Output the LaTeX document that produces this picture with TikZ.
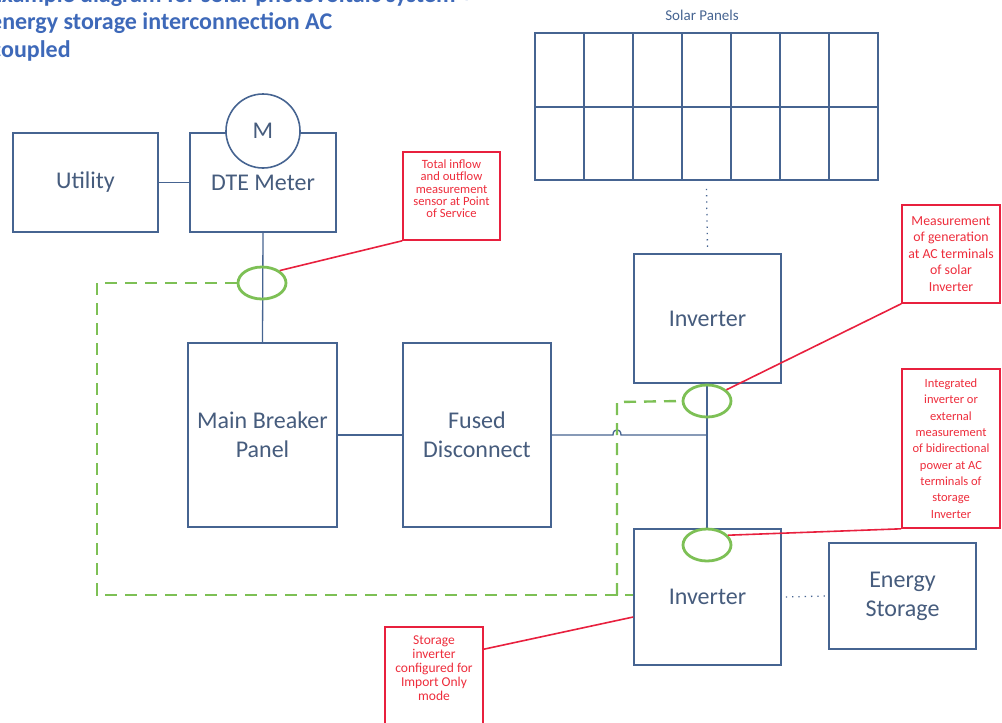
\documentclass[tikz,border=0pt]{standalone}
\usepackage{fontspec}
\setmainfont{Carlito}
\usetikzlibrary{shapes.geometric}
\definecolor{boxline}{RGB}{70,100,145}
\definecolor{boxtext}{RGB}{70,92,125}
\definecolor{titleblue}{RGB}{62,105,185}
\definecolor{calred}{RGB}{232,32,62}
\definecolor{redtext}{RGB}{238,45,60}
\definecolor{sensgreen}{RGB}{125,192,85}
\begin{document}
\begin{tikzpicture}[x=1pt,y=-1pt,
  blk/.style={draw=boxline, line width=1.6pt, fill=white, text=boxtext,
    font=\fontsize{24}{29}\selectfont, align=center, inner sep=0pt},
  wire/.style={draw=boxline, line width=1.3pt},
  sensor/.style={draw=sensgreen, line width=2.8pt, ellipse, minimum width=48pt,
    minimum height=32pt, inner sep=0pt},
  gdash/.style={draw=sensgreen, line width=2.4pt, dash pattern=on 12pt off 8pt},
  callout/.style={draw=calred, line width=1.6pt, fill=white, text=redtext,
    align=center, inner sep=0pt, minimum width=97pt},
  redline/.style={draw=calred, line width=1.6pt},
  dots/.style={draw=boxline, line width=1.3pt, dash pattern=on 1.3pt off 5pt},
  ttl/.style={anchor=base west, text=titleblue, inner sep=0pt,
    font=\bfseries\fontsize{24}{28}\selectfont}]
\useasboundingbox (0,0) rectangle (1002,723);
\clip (0,0) rectangle (1002,723);

% title (cut off by the picture edge, as in the original)
\node[ttl] (t1) at (-10,2) {Example diagram for solar photovoltaic system +};
\node[ttl] (t2) at (-10,29) {energy storage interconnection AC};
\node[ttl] (t3) at (-9,57) {coupled};

% solar panels
\node[text=boxline, font=\fontsize{15}{18}\selectfont, inner sep=0pt] (sptitle) at (702,15) {Solar Panels};
\node[draw=boxline, line width=1.6pt, minimum width=343pt, minimum height=147pt, inner sep=0pt] (panels) at (706.5,106.5) {};
\foreach \i in {1,...,6} {
  \draw[boxline, line width=1.6pt] (535+49*\i,33) -- (535+49*\i,180);
}
\draw[boxline, line width=1.6pt] (535,107) -- (878,107);

% blocks
\node[blk, minimum width=145pt, minimum height=99pt] (util) at (85.5,182.5) {Utility};
\node[blk, minimum width=146pt, minimum height=99pt] (dte) at (263,182.5) {DTE Meter};
\node[draw=boxline, line width=1.6pt, fill=white, circle, minimum size=74pt, inner sep=0pt,
  text=boxtext, font=\fontsize{24}{29}\selectfont] (meter) at (263,131) {M};
\node[blk, minimum width=149pt, minimum height=184pt] (mb) at (262.5,435) {Main Breaker\\Panel};
\node[blk, minimum width=148pt, minimum height=184pt] (fd) at (477,435) {Fused\\Disconnect};
\node[blk, minimum width=147pt, minimum height=129pt] (sinv) at (707.5,318.5) {Inverter};
\node[blk, minimum width=147pt, minimum height=136pt] (binv) at (707.5,597) {Inverter};
\node[blk, minimum width=147pt, minimum height=106pt] (es) at (902.5,596) {Energy\\Storage};

% wiring
\coordinate (hopl) at (613,435);
\coordinate (hopr) at (621,435);
\coordinate (tee) at (707,435);
\draw[wire] (util.east) -- (dte.west);
\draw[wire] (dte.south) -- (mb.north);
\draw[wire] (mb.east) -- (fd.west);
\draw[wire] (fd.east) -- (hopl) .. controls (613,428) and (621,428) .. (hopr) -- (tee);
\draw[wire] (sinv.south -| tee) -- (binv.north -| tee);
\draw[dots] (panels.south) ++(0,8) -- ([yshift=5pt]sinv.north);
\draw[dots] ([xshift=4pt]binv.east) -- ([xshift=-3pt]es.west);

% sensors
\node[sensor] (e1) at (262,283) {};
\node[sensor] (e2) at (707,401) {};
\node[sensor] (e3) at (707,545) {};

% communication loop (green dashed)
\coordinate (g1) at (97,283);
\coordinate (g2) at (97,595);
\coordinate (g3) at (617,402);
\coordinate (g4) at (617,595);
\draw[gdash] (e1.west) -- (g1) -- (g2) -- (g4) -- ([yshift=2pt]binv.west);
\draw[gdash] (g4) -- (g3) -- (e2.west);

% callouts
\node[callout, minimum height=88pt, font=\fontsize{12.6}{12.3}\selectfont] (r1) at (451.5,196)
  {Total inflow\\and outflow\\measurement\\sensor at Point\\of Service\\[2pt]\mbox{}};
\node[callout, minimum width=98pt, minimum height=98pt, font=\fontsize{13.8}{16.5}\selectfont] (r2) at (951,254)
  {Measurement\\of generation\\at AC terminals\\of solar\\Inverter};
\node[callout, minimum width=98pt, minimum height=159pt, font=\fontsize{12.5}{16.4}\selectfont] (r3) at (951,448.5)
  {Integrated\\inverter or\\external\\measurement\\of bidirectional\\power at AC\\terminals of\\storage\\Inverter};
\node[callout, minimum width=98pt, minimum height=100pt, font=\fontsize{13.5}{14}\selectfont] (r4) at (434,677)
  {Storage\\inverter\\configured for\\Import Only\\mode\\[3pt]\mbox{}};

\draw[redline] (e1.35) -- (r1.south west);
\draw[redline] (e2.30) -- (r2.south west);
\draw[redline] (e3.25) -- (r3.south west);
\draw[redline] ([yshift=-23pt]r4.north east) -- ([yshift=-20pt]binv.west);
\end{tikzpicture}
\end{document}
